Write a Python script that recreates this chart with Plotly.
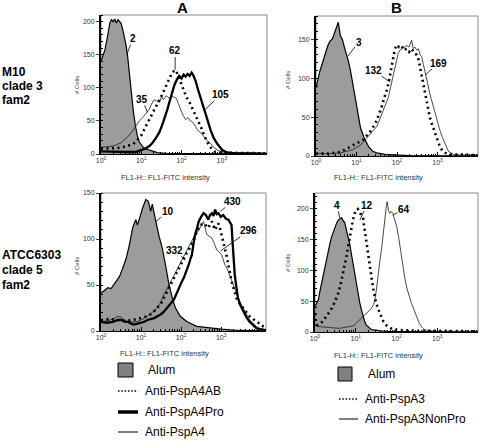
import plotly.graph_objects as go

W, H = 480, 441

# ---------------- data (x as log10 of FL1 intensity, y = # cells) ----------------
# Panel A, M10 (top-left)
tl_alum_x = [0, 0.05, 0.1, 0.14, 0.18, 0.22, 0.26, 0.30, 0.34, 0.38, 0.42, 0.46, 0.50, 0.54, 0.58, 0.62, 0.66, 0.70, 0.75, 0.80, 0.85, 0.90, 0.95, 1.0, 1.05, 1.1, 1.15, 1.2, 1.3, 1.4, 1.6, 1.9, 2.3, 4.12]
tl_alum_y = [140, 148, 158, 170, 185, 198, 203, 200, 204, 198, 203, 200, 197, 188, 178, 165, 148, 122, 92, 66, 44, 28, 18, 13, 10, 8, 7, 5, 3, 2, 1, 1, 0, 0]
tl_ab_x = [0, 0.2, 0.4, 0.6, 0.8, 0.9, 1.0, 1.08, 1.16, 1.24, 1.32, 1.40, 1.49, 1.57, 1.65, 1.72, 1.78, 1.84, 1.89, 1.94, 2.0, 2.06, 2.12, 2.19, 2.25, 2.31, 2.38, 2.44, 2.5, 2.56, 2.62, 2.68, 2.76, 2.84, 2.95, 3.1, 3.5, 4.12]
tl_ab_y = [8, 8, 9, 11, 15, 21, 28, 38, 48, 58, 68, 76, 86, 97, 109, 117, 124, 127, 122, 114, 104, 94, 86, 79, 71, 64, 56, 48, 38, 28, 20, 13, 7, 3, 2, 2, 1, 1]
tl_pro_x = [0, 0.3, 0.6, 0.85, 1.0, 1.1, 1.2, 1.28, 1.36, 1.45, 1.52, 1.58, 1.64, 1.70, 1.76, 1.82, 1.88, 1.94, 2.0, 2.05, 2.1, 2.15, 2.2, 2.25, 2.29, 2.35, 2.40, 2.48, 2.57, 2.64, 2.72, 2.80, 2.89, 2.95, 3.01, 3.1, 3.3, 3.6, 4.12]
tl_pro_y = [4, 3, 3, 3, 6, 8, 12, 17, 24, 33, 44, 54, 66, 79, 92, 104, 112, 118, 114, 120, 117, 121, 118, 123, 119, 110, 99, 84, 68, 52, 36, 24, 15, 10, 6, 3, 1, 1, 0]
tl_a4_x = [0, 0.3, 0.5, 0.65, 0.75, 0.85, 0.95, 1.05, 1.12, 1.2, 1.26, 1.32, 1.38, 1.45, 1.50, 1.55, 1.62, 1.70, 1.76, 1.82, 1.87, 1.92, 1.98, 2.04, 2.1, 2.16, 2.22, 2.28, 2.34, 2.40, 2.48, 2.56, 2.64, 2.72, 2.80, 2.89, 3.0, 3.2, 3.6, 4.12]
tl_a4_y = [10, 12, 17, 25, 32, 42, 50, 56, 62, 68, 76, 82, 80, 78, 86, 82, 88, 84, 88, 86, 84, 76, 66, 58, 52, 55, 50, 48, 42, 36, 32, 26, 20, 16, 10, 6, 3, 2, 1, 1]

# Panel B, M10 (top-right)
tr_alum_x = [0, 0.05, 0.1, 0.15, 0.2, 0.25, 0.3, 0.35, 0.4, 0.45, 0.5, 0.55, 0.6, 0.65, 0.7, 0.75, 0.8, 0.85, 0.9, 0.95, 1.0, 1.05, 1.1, 1.2, 1.3, 1.4, 1.5, 1.7, 2.0, 2.3, 4.0]
tr_alum_y = [88, 100, 110, 118, 128, 135, 143, 148, 150, 158, 163, 172, 155, 150, 140, 132, 122, 110, 95, 78, 63, 48, 36, 22, 12, 6, 4, 2, 1, 0.5, 0]
tr_a3_x = [0, 0.3, 0.6, 0.84, 1.0, 1.17, 1.33, 1.42, 1.5, 1.56, 1.62, 1.68, 1.75, 1.8, 1.85, 1.9, 1.95, 2.0, 2.05, 2.11, 2.17, 2.24, 2.30, 2.36, 2.43, 2.49, 2.53, 2.57, 2.61, 2.65, 2.69, 2.73, 2.77, 2.81, 2.87, 2.94, 3.0, 3.06, 3.12, 3.19, 3.3, 3.6, 4.0]
tr_a3_y = [3, 3, 5, 12, 16, 21, 31, 38, 46, 54, 63, 74, 85, 96, 110, 125, 138, 143, 140, 142, 136, 138, 134, 138, 132, 130, 124, 114, 104, 93, 82, 72, 61, 50, 40, 29, 20, 12, 7, 4, 2, 2, 1]
tr_np_x = [0, 0.3, 0.6, 0.9, 1.1, 1.2, 1.33, 1.42, 1.5, 1.58, 1.66, 1.72, 1.79, 1.84, 1.87, 1.93, 1.99, 2.03, 2.07, 2.12, 2.17, 2.24, 2.30, 2.36, 2.40, 2.44, 2.49, 2.53, 2.57, 2.61, 2.65, 2.69, 2.75, 2.81, 2.87, 2.94, 3.0, 3.06, 3.12, 3.19, 3.27, 3.4, 3.7, 4.0]
tr_np_y = [3, 3, 4, 8, 14, 20, 28, 33, 38, 48, 59, 67, 76, 88, 95, 108, 123, 132, 136, 138, 140, 142, 140, 149, 138, 140, 136, 138, 130, 128, 118, 110, 95, 80, 68, 55, 44, 33, 24, 16, 6, 2, 1, 1]

# Panel A, ATCC6303 (bottom-left)
bl_alum_x = [0, 0.08, 0.17, 0.25, 0.30, 0.38, 0.46, 0.54, 0.63, 0.71, 0.79, 0.84, 0.87, 0.91, 0.95, 1.0, 1.04, 1.08, 1.12, 1.15, 1.18, 1.21, 1.24, 1.28, 1.32, 1.37, 1.45, 1.53, 1.61, 1.70, 1.78, 1.86, 1.98, 2.15, 2.39, 2.72, 3.0, 3.3, 4.12]
bl_alum_y = [41, 44, 47, 46, 49, 54, 59, 68, 79, 94, 112, 118, 121, 115, 122, 128, 134, 138, 143, 142, 141, 136, 130, 138, 128, 119, 103, 90, 72, 50, 36, 25, 16, 10, 5, 3, 2, 1, 0]
bl_pro_x = [0, 0.15, 0.3, 0.42, 0.5, 0.6, 0.67, 0.75, 0.83, 0.92, 0.99, 1.08, 1.16, 1.25, 1.33, 1.41, 1.49, 1.57, 1.65, 1.74, 1.82, 1.88, 1.94, 2.0, 2.07, 2.13, 2.19, 2.23, 2.27, 2.31, 2.35, 2.40, 2.44, 2.50, 2.56, 2.62, 2.68, 2.72, 2.77, 2.81, 2.85, 2.89, 2.93, 2.99, 3.05, 3.12, 3.18, 3.22, 3.26, 3.28, 3.30, 3.34, 3.38, 3.42, 3.48, 3.55, 3.63, 3.71, 3.8, 3.88, 3.96, 4.12]
bl_pro_y = [10, 9, 10, 12, 12, 10, 10, 8, 7, 8, 9, 10, 12, 13, 14, 16, 18, 21, 25, 29, 34, 40, 47, 52, 58, 64, 72, 78, 83, 95, 105, 112, 119, 124, 128, 126, 121, 126, 128, 125, 132, 127, 128, 124, 126, 122, 121, 118, 115, 100, 83, 61, 48, 36, 28, 21, 15, 10, 6, 3, 2, 1]
bl_ab_x = [0, 0.2, 0.4, 0.6, 0.8, 1.0, 1.16, 1.3, 1.41, 1.5, 1.57, 1.64, 1.70, 1.76, 1.82, 1.88, 1.94, 2.0, 2.07, 2.13, 2.19, 2.25, 2.31, 2.35, 2.39, 2.44, 2.48, 2.52, 2.56, 2.62, 2.68, 2.72, 2.77, 2.81, 2.85, 2.89, 2.93, 2.97, 3.01, 3.05, 3.09, 3.14, 3.18, 3.22, 3.26, 3.32, 3.38, 3.46, 3.55, 3.63, 3.71, 3.8, 3.88, 3.96, 4.05, 4.12]
bl_ab_y = [12, 13, 12, 11, 12, 14, 16, 20, 25, 30, 36, 42, 47, 52, 58, 63, 68, 74, 79, 84, 88, 93, 97, 102, 108, 112, 115, 116, 117, 115, 112, 116, 119, 114, 110, 114, 117, 112, 105, 98, 90, 81, 72, 63, 54, 45, 36, 30, 25, 20, 16, 13, 10, 8, 5, 4]
bl_a4_x = [0, 0.15, 0.3, 0.42, 0.5, 0.6, 0.75, 0.9, 1.0, 1.16, 1.3, 1.41, 1.5, 1.57, 1.64, 1.70, 1.76, 1.82, 1.88, 1.94, 2.0, 2.07, 2.15, 2.23, 2.29, 2.35, 2.42, 2.48, 2.52, 2.56, 2.60, 2.64, 2.70, 2.77, 2.83, 2.89, 2.95, 3.01, 3.05, 3.09, 3.15, 3.21, 3.28, 3.34, 3.40, 3.46, 3.55, 3.63, 3.71, 3.79, 3.88, 3.96, 4.12]
bl_a4_y = [10, 11, 13, 16, 15, 11, 10, 10, 12, 16, 21, 25, 32, 40, 45, 50, 56, 61, 66, 70, 76, 81, 87, 94, 99, 105, 108, 112, 116, 119, 110, 105, 103, 101, 95, 88, 86, 83, 78, 72, 68, 61, 54, 47, 40, 32, 25, 18, 12, 9, 5, 3, 1]

# Panel B, ATCC6303 (bottom-right)
br_alum_x = [0, 0.04, 0.08, 0.12, 0.16, 0.2, 0.24, 0.29, 0.33, 0.37, 0.41, 0.45, 0.49, 0.53, 0.57, 0.61, 0.65, 0.70, 0.73, 0.77, 0.81, 0.85, 0.89, 0.93, 0.98, 1.02, 1.06, 1.10, 1.14, 1.18, 1.22, 1.26, 1.32, 1.38, 1.5, 1.59, 1.8, 2.1, 2.5, 4.0]
br_alum_y = [41, 46, 52, 66, 79, 92, 106, 120, 133, 145, 155, 163, 171, 177, 182, 184, 186, 180, 178, 166, 156, 144, 128, 112, 95, 79, 63, 47, 36, 25, 17, 11, 7, 4, 3, 2, 1, 1, 0, 0]
br_a3_x = [0, 0.03, 0.06, 0.14, 0.22, 0.3, 0.39, 0.48, 0.57, 0.63, 0.69, 0.73, 0.77, 0.81, 0.85, 0.89, 0.93, 0.97, 1.0, 1.05, 1.08, 1.11, 1.15, 1.18, 1.21, 1.24, 1.27, 1.30, 1.33, 1.36, 1.39, 1.42, 1.46, 1.50, 1.56, 1.62, 1.68, 1.75, 1.83, 1.91, 2.1, 2.5, 3.0, 4.0]
br_a3_y = [30, 15, 11, 14, 20, 27, 36, 48, 63, 78, 95, 108, 122, 138, 155, 170, 182, 192, 198, 200, 196, 193, 188, 185, 170, 155, 140, 128, 112, 95, 85, 74, 60, 47, 36, 25, 17, 11, 7, 4, 3, 2, 2, 1]
br_np_x = [0, 0.03, 0.08, 0.2, 0.4, 0.6, 0.8, 0.95, 1.02, 1.10, 1.2, 1.3, 1.38, 1.44, 1.47, 1.51, 1.55, 1.59, 1.63, 1.66, 1.68, 1.71, 1.73, 1.75, 1.77, 1.79, 1.81, 1.84, 1.87, 1.91, 1.94, 1.97, 2.01, 2.05, 2.09, 2.13, 2.17, 2.21, 2.26, 2.31, 2.37, 2.43, 2.50, 2.56, 2.62, 2.68, 2.8, 3.0, 3.5, 4.0]
br_np_y = [14, 11, 9, 8, 7, 6, 8, 10, 15, 20, 26, 32, 38, 45, 52, 70, 95, 115, 133, 152, 171, 185, 200, 204, 212, 204, 196, 193, 196, 193, 186, 182, 170, 155, 136, 117, 100, 85, 70, 57, 46, 36, 24, 14, 8, 4, 2, 1, 1, 1]

x_tick_vals = [1, 10, 100, 1000]
x_tick_text = ["10<sup>0</sup>", "10<sup>1</sup>", "10<sup>2</sup>", "10<sup>3</sup>"]
y_tick_vals = [0, 50, 100, 150, 200]

# peak labels: (axis, text, tip log10 x, tip y, text dx px, text dy px)
peak_labels = [
    (1, "2", 0.64, 150, 6, -16),
    (1, "62", 1.84, 127, 0, -19),
    (1, "35", 1.15, 63, -5, -13),
    (1, "105", 2.58, 67, 16, -15),
    (2, "3", 0.78, 128, 11, -14),
    (2, "132", 1.83, 95, -17, -12),
    (2, "169", 2.69, 104, 14, -12),
    (3, "10", 1.37, 119, 12, -10),
    (3, "332", 2.11, 77, -11, -10),
    (3, "430", 2.985, 130, 12, -10),
    (3, "296", 2.985, 87, 28, -20),
    (4, "4", 0.61, 185, -3, -13),
    (4, "12", 1.10, 182, 7, -15),
    (4, "64", 1.91, 190, 11, -6),
]

# ---------------- figure ----------------
def X(px):
    return px / W

def Y(py):
    return 1 - py / H

FONT = "Liberation Sans, Arial, sans-serif"
fig = go.Figure()

def to_lin(v):
    return [10 ** a for a in v]

panels = [
    (1, [(tl_alum_x, tl_alum_y, "alum"), (tl_a4_x, tl_a4_y, "thin"), (tl_ab_x, tl_ab_y, "dot"), (tl_pro_x, tl_pro_y, "thick")]),
    (2, [(tr_alum_x, tr_alum_y, "alum"), (tr_np_x, tr_np_y, "thin"), (tr_a3_x, tr_a3_y, "dot")]),
    (3, [(bl_alum_x, bl_alum_y, "alum"), (bl_a4_x, bl_a4_y, "thin"), (bl_ab_x, bl_ab_y, "dot"), (bl_pro_x, bl_pro_y, "thick")]),
    (4, [(br_alum_x, br_alum_y, "alum"), (br_np_x, br_np_y, "thin"), (br_a3_x, br_a3_y, "dot")]),
]

for k, curves in panels:
    xa = "x" if k == 1 else f"x{k}"
    ya = "y" if k == 1 else f"y{k}"
    for xs, ys, sty in curves:
        kw = dict(x=to_lin(xs), y=ys, xaxis=xa, yaxis=ya, mode="lines", showlegend=False, hoverinfo="skip")
        if sty == "alum":
            kw.update(fill="tozeroy", fillcolor="#9c9c9c", line=dict(color="black", width=1.2))
        elif sty == "thin":
            kw.update(line=dict(color="#1a1a1a", width=0.8))
        elif sty == "dot":
            kw.update(line=dict(color="black", width=2.6, dash="2px,3.5px"))
        else:
            kw.update(line=dict(color="black", width=2.3))
        fig.add_trace(go.Scatter(**kw))

# panel geometry in pixels: (left, right, top, bottom, log-range max, y max)
geom = {
    1: (101, 267, 15, 154, 4.12, 210),
    2: (316, 478, 16, 156, 4.0, 180),
    3: (101, 266, 193, 331, 4.12, 150),
    4: (315, 478, 193, 332, 4.0, 226),
}
minor_vals = [m * 10 ** d for d in range(0, 5) for m in range(2, 10)]

layout = dict(width=W, height=H, margin=dict(l=0, r=0, t=0, b=0, pad=0, autoexpand=False), autosize=False,
              paper_bgcolor="white", plot_bgcolor="white", showlegend=False,
              font=dict(family=FONT, color="black"))
shapes = []
for k, (l, r, t, b, xmax, ymax) in geom.items():
    sx = "" if k == 1 else str(k)
    layout["xaxis" + sx] = dict(
        type="log", range=[0, xmax], domain=[X(l), X(r)], anchor="y" + sx,
        tickmode="array", tickvals=x_tick_vals, ticktext=x_tick_text,
        ticks="inside", ticklen=4, tickwidth=1, tickcolor="black",
        minor=dict(tickmode="array", tickvals=minor_vals, ticks="inside", ticklen=2, tickcolor="black", showgrid=False),
        showline=True, linecolor="black", linewidth=1, showgrid=False, zeroline=False,
        tickfont=dict(size=7, color="#333"), fixedrange=True, automargin=False,
    )
    layout["yaxis" + sx] = dict(
        range=[0, ymax], domain=[Y(b), Y(t)], anchor="x" + sx,
        tickmode="array", tickvals=[v for v in y_tick_vals if v <= ymax],
        ticks="outside", ticklen=3, tickwidth=1, tickcolor="#444",
        minor=dict(dtick=10, ticks="inside", ticklen=2, tickcolor="black", showgrid=False),
        showline=True, linecolor="black", linewidth=2, showgrid=False, zeroline=False,
        tickfont=dict(size=7, color="#333"), fixedrange=True, automargin=False,
    )
    shapes.append(dict(type="rect", xref=f"x{sx} domain", yref=f"y{sx} domain", x0=0, x1=1, y0=0, y1=1,
                       line=dict(color="#8a8a8a", width=1), layer="below"))

ann = []
# peak labels
for k, txt, lx, ly, dx, dy in peak_labels:
    sx = "" if k == 1 else str(k)
    ann.append(dict(xref="x" + sx, yref="y" + sx, x=lx, y=ly, text=f"<b>{txt}</b>", showarrow=True,
                    arrowhead=0, arrowwidth=0.8, arrowcolor="black", ax=dx, ay=dy,
                    font=dict(size=10, color="black", family=FONT), borderpad=0, standoff=0))

# panel titles
ann.append(dict(xref="paper", yref="paper", x=X(182), y=Y(8), text="<b>A</b>", showarrow=False,
                font=dict(size=15), xanchor="center", yanchor="middle"))
ann.append(dict(xref="paper", yref="paper", x=X(396), y=Y(8), text="<b>B</b>", showarrow=False,
                font=dict(size=15), xanchor="center", yanchor="middle"))

# row labels
for txt, py in [("M10", 72), ("clade 3", 86), ("fam2", 100), ("ATCC6303", 255), ("clade 5", 270), ("fam2", 285)]:
    ann.append(dict(xref="paper", yref="paper", x=X(0), y=Y(py), text=f"<b>{txt}</b>", showarrow=False,
                    font=dict(size=12), xanchor="left", yanchor="middle"))

# axis titles
for px, py in [(77, 85), (288, 80), (77, 266), (288, 263)]:
    ann.append(dict(xref="paper", yref="paper", x=X(px), y=Y(py), text="# Cells", showarrow=False,
                    textangle=-90, font=dict(size=6, color="#444"), xanchor="center", yanchor="middle"))
for px, py in [(165, 177), (378, 178), (164, 353), (378, 355)]:
    ann.append(dict(xref="paper", yref="paper", x=X(px), y=Y(py), text="FL1-H:: FL1-FITC intensity", showarrow=False,
                    font=dict(size=7.5, color="#333"), xanchor="center", yanchor="middle"))

# legends
def legend_block(sq, items):
    shapes.append(dict(type="rect", xref="paper", yref="paper", x0=X(sq[0]), x1=X(sq[1]), y0=Y(sq[3]), y1=Y(sq[2]),
                       fillcolor="#808080", line=dict(color="black", width=1)))
    for txt, py, tx, sty, lx0, lx1 in items:
        if sty is not None:
            line = dict(color="black", width=1)
            if sty == "dot":
                line = dict(color="black", width=1.6, dash="1.5px,1.8px")
            elif sty == "thick":
                line = dict(color="black", width=3.5)
            shapes.append(dict(type="line", xref="paper", yref="paper", x0=X(lx0), x1=X(lx1), y0=Y(py), y1=Y(py), line=line))
        ann.append(dict(xref="paper", yref="paper", x=X(tx), y=Y(py), text=txt, showarrow=False,
                        font=dict(size=12), xanchor="left", yanchor="middle"))

legend_block((118, 133, 363, 377), [
    ("Alum", 370, 146, None, 0, 0),
    ("Anti-PspA4AB", 391, 143, "dot", 118, 138),
    ("Anti-PspA4Pro", 412, 143, "thick", 118, 138),
    ("Anti-PspA4", 432, 143, "thin", 118, 138),
])
legend_block((338, 352, 367, 381), [
    ("Alum", 374, 366, None, 0, 0),
    ("Anti-PspA3", 399, 363, "dot", 339, 358),
    ("Anti-PspA3NonPro", 419, 363, "thin", 339, 358),
])

layout["shapes"] = shapes
layout["annotations"] = ann
fig.update_layout(**layout)
fig.write_html("out.html", config={"displayModeBar": False, "staticPlot": True},
               post_script="document.body.style.margin='0';document.body.style.overflow='hidden';")
